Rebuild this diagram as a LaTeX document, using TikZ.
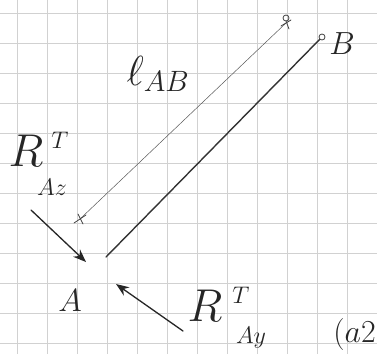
\documentclass[tikz,border=0pt]{standalone}
\usepackage{fix-cm}
\usetikzlibrary{arrows.meta,calc}
\begin{document}
\begin{tikzpicture}[x=1pt,y=-1pt,
  gridline/.style={draw=black!18, line width=0.6pt},
  bar/.style={draw=black!80, line width=1.4pt, line cap=round},
  dimline/.style={draw=black!65, line width=0.5pt, line cap=round},
  tick/.style={draw=black!75, line width=0.8pt, line cap=round},
  force/.style={draw=black!85, line width=1.3pt, line cap=round, -{Stealth[length=13pt,width=10pt]}},
  lbl/.style={text=black!85, inner sep=0pt},
  huge/.style={lbl, font=\fontsize{46}{48}\selectfont},
  big/.style={lbl, font=\fontsize{42}{44}\selectfont},
  mid/.style={lbl, font=\fontsize{32}{34}\selectfont},
  small/.style={lbl, font=\fontsize{24}{26}\selectfont}]
\useasboundingbox (0,0) rectangle (377,354);
\clip (0,0) rectangle (377,354);
\fill[white] (0,0) rectangle (377,354);
% paper grid
\foreach \x in {17,47,...,377} \draw[gridline] (\x,0) -- (\x,354);
\foreach \y in {13,43,...,354} \draw[gridline] (0,\y) -- (377,\y);
% bar A--B
\coordinate (A) at (106,257);
\coordinate (B) at (322,37);
\draw[bar] (A) -- (B);
\draw[tick, fill=white] (B) circle (3);
% dimension line
\coordinate (D1) at (80,219);
\coordinate (D2) at (286,23);
\draw[dimline] (D1) -- (D2);
\draw[tick] ($(D1)+(-6,4)$) -- ($(D1)+(6,-4)$);
\draw[tick] ($(D1)+(-2,-5)$) -- ($(D1)+(3,5)$);
\draw[tick] ($(D2)+(-5,3)$) -- ($(D2)+(5,-3)$);
\draw[tick] ($(D2)+(0,-2)$) -- ($(D2)+(3,6)$);
\draw[tick] ($(D2)+(0,-5)$) circle (3);
% labels
\node[big] (lab) at (158,74) {$\ell_{AB}$};
\node[mid] (labB) at (342,44) {$B$};
\node[mid] (labA) at (70,301) {$A$};
\node[huge] (Rz) at (26,151) {$R$};
\node[small] (Rzt) at (60,140) {$T$};
\node[small] (Rzs) at (52,187) {$Az$};
\node[huge] (Ry) at (205,306) {$R$};
\node[small] (Ryt) at (241,295) {$T$};
\node[small] (Rys) at (251,338) {$Ay$};
\node[mid, anchor=east] (a2) at (376,334) {$(a2$};
% forces
\coordinate (Fz0) at (31,210);
\coordinate (Fz1) at (86,262);
\draw[force] (Fz0) -- (Fz1);
\coordinate (Fy0) at (183,331);
\coordinate (Fy1) at (116,284);
\draw[force] (Fy0) -- (Fy1);
\end{tikzpicture}
\end{document}
